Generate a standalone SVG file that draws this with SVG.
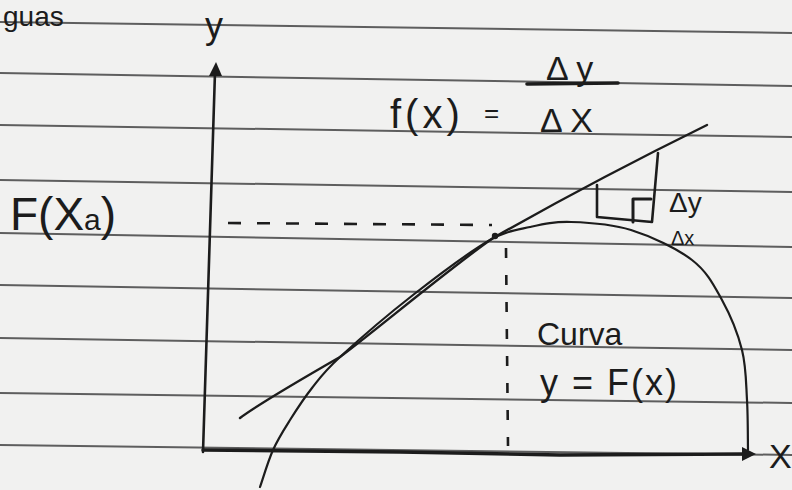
<svg xmlns="http://www.w3.org/2000/svg" width="792" height="490" viewBox="0 0 792 490">
<defs>
<style>
.rule{stroke:#5e5e5e;stroke-width:2;fill:none}
.ink{stroke:#1c1c1c;fill:none;stroke-linecap:round;stroke-linejoin:round}
.dash{stroke:#1c1c1c;fill:none;stroke-width:2.6;stroke-dasharray:13 16}
.vdash{stroke:#1c1c1c;fill:none;stroke-width:2.6;stroke-dasharray:10 17}
.t{font-family:"Liberation Sans","DejaVu Sans",sans-serif;fill:#1c1c1c}
</style>
</defs>
<rect x="0" y="0" width="792" height="490" fill="#f1f1f0"/>
<g id="paper">
<line class="rule" x1="0" y1="22" x2="792" y2="33"/>
<line class="rule" x1="0" y1="73" x2="792" y2="86"/>
<line class="rule" x1="0" y1="125" x2="792" y2="137"/>
<line class="rule" x1="0" y1="180" x2="792" y2="192"/>
<line class="rule" x1="0" y1="233" x2="792" y2="247"/>
<line class="rule" x1="0" y1="285" x2="792" y2="298"/>
<line class="rule" x1="0" y1="338" x2="792" y2="350"/>
<line class="rule" x1="0" y1="393" x2="792" y2="403"/>
<line class="rule" x1="0" y1="445" x2="792" y2="455"/>
</g>
<g id="title"><text class="t" x="3" y="26" font-size="28">guas</text></g>
<g id="connectors">
<line class="ink" x1="203" y1="452" x2="215" y2="72" stroke-width="2.6"/>
<polygon points="216,62 209,76 222,76" fill="#1c1c1c"/>
<path class="ink" d="M203,450 L400,452 L560,455 L744,454" stroke-width="3.4"/>
<polygon points="756,454 742,447 742,461" fill="#1c1c1c"/>
<path class="dash" d="M228,223 L492,225"/>
<path class="vdash" d="M506,248 L508,446"/>
</g>
<g id="curve">
<path class="ink" stroke-width="2.2" d="M260,487 C262.2,480.8 268,461.2 273,450 C278,438.8 283.5,430.3 290,420 C296.5,409.7 303.7,398.5 312,388 C320.3,377.5 323.2,372.5 340,357 C356.8,341.5 388,314.5 413,295 C438,275.5 470.5,251.3 490,240 C506,231 516.5,230 530,227 C543.5,224 554.2,221.5 571,222 C587.8,222.5 610.8,223.7 631,230 C651.2,236.3 676.8,248.3 692,260 C707.2,271.7 713.7,285 722,300 C730.3,315 737.8,333.3 742,350 C746.2,366.7 746,383.3 747,400 C748,416.7 747.8,441.7 748,450"/>
</g>
<g id="tangent">
<path class="ink" stroke-width="2.4" d="M240,418 C260,403 300,380 340,357 C370,335 450,268 493,238 C560,200 640,158 707,125"/>
<circle cx="495" cy="236" r="3.2" fill="#1c1c1c"/>
</g>
<g id="slope-triangle">
<path class="ink" stroke-width="2.6" d="M658,153 L652,222 L597,217 L597,185"/>
<path class="ink" stroke-width="3" d="M633,222 L633,199 L651,199"/>
<text class="t" x="669" y="212" font-size="28">Δy</text>
<text class="t" x="671" y="245" font-size="20">Δx</text>
</g>
<g id="formula">
<text class="t" x="390" y="128" font-size="40" letter-spacing="4">f(x)</text>
<text class="t" x="484" y="122" font-size="26">=</text>
<text class="t" x="546" y="80" font-size="34">Δ y</text>
<line class="ink" x1="527" y1="84" x2="618" y2="83" stroke-width="3.6"/>
<text class="t" x="540" y="132" font-size="34">Δ X</text>
</g>
<g id="fxa-label"><text class="t" x="10" y="230" font-size="46">F(X<tspan font-size="30">a</tspan>)</text></g>
<g id="y-label"><text class="t" x="205" y="38" font-size="36">y</text></g>
<g id="x-label"><text class="t" x="769" y="468" font-size="34">X</text></g>
<g id="curve-label">
<text class="t" x="537" y="345" font-size="32">Curva</text>
<text class="t" x="540" y="395" font-size="36" letter-spacing="2">y = F(x)</text>
</g>
</svg>
